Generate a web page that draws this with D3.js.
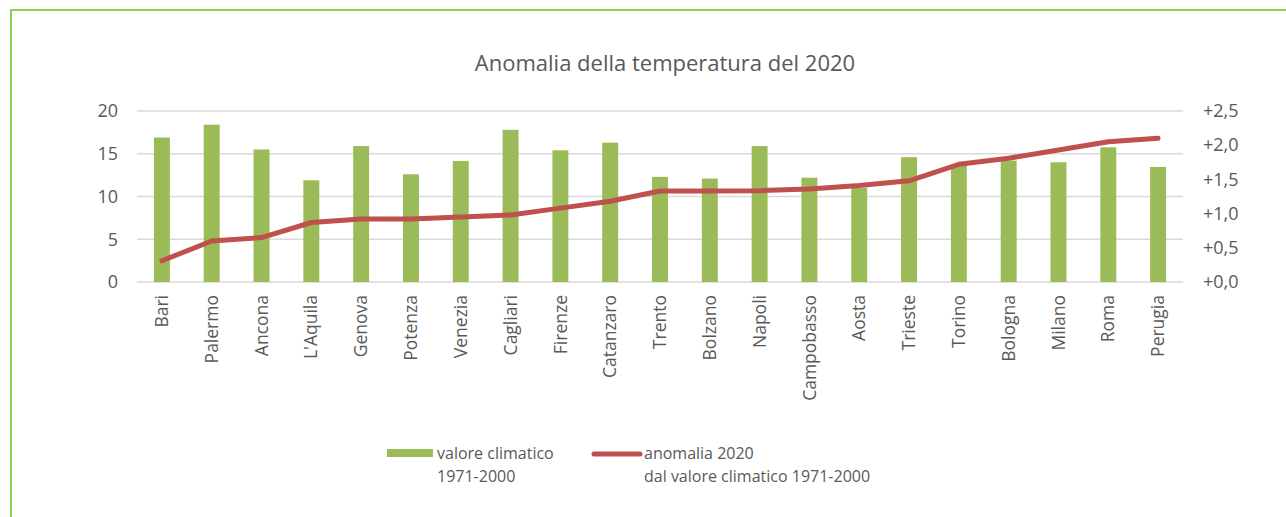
<!DOCTYPE html>
<html>
<head>
<meta charset="utf-8">
<script src="https://cdn.jsdelivr.net/npm/d3@7"></script>
<style>
  body { margin: 0; background: #fff; }
  svg { display: block; }
  text { font-family: "Open Sans", sans-serif; fill: #595959; }
</style>
</head>
<body>
<svg id="chart" width="1286" height="517"></svg>
<script>
// città ordinate per anomalia crescente
const cities = ["Bari","Palermo","Ancona","L'Aquila","Genova","Potenza","Venezia","Cagliari","Firenze","Catanzaro","Trento","Bolzano","Napoli","Campobasso","Aosta","Trieste","Torino","Bologna","Milano","Roma","Perugia"];
// valore climatico 1971-2000 (°C)
const climate = [16.9,18.4,15.5,11.9,15.9,12.6,14.15,17.8,15.4,16.3,12.3,12.1,15.9,12.2,11.0,14.6,13.7,14.2,14.0,15.75,13.45];
// anomalia 2020 (°C)
const anomaly = [0.31,0.60,0.65,0.87,0.92,0.92,0.95,0.98,1.08,1.18,1.33,1.33,1.335,1.36,1.41,1.48,1.72,1.81,1.93,2.05,2.10];
const leftTicks = [0,5,10,15,20];
const rightTicks = [0,0.5,1,1.5,2,2.5];

const svg = d3.select("#chart");
const margin = {left:137, right:103, top:111, bottom:235};
const W = 1286, H = 517;

// cornice verde
svg.append("rect")
  .attr("x",11).attr("y",10)
  .attr("width",1400).attr("height",600)
  .attr("fill","none")
  .attr("stroke","#92d050")
  .attr("stroke-width",2);

svg.append("text")
  .attr("x",665).attr("y",71)
  .attr("text-anchor","middle")
  .style("font-size","22px")
  .text("Anomalia della temperatura del 2020");

const x = d3.scaleBand()
  .domain(cities)
  .range([margin.left, W-margin.right])
  .paddingInner(0.68)
  .paddingOuter(0.34);

const yL = d3.scaleLinear().domain([0,20]).range([H-margin.bottom, margin.top]);
const yR = d3.scaleLinear().domain([0,2.5]).range([H-margin.bottom, margin.top]);

// griglia
svg.append("g")
  .selectAll("line")
  .data(leftTicks)
  .enter()
  .append("line")
  .attr("x1",margin.left).attr("x2",W-margin.right)
  .attr("y1",d=>yL(d)).attr("y2",d=>yL(d))
  .attr("stroke","#d9d9d9")
  .attr("stroke-width",1.5);

// barre
svg.append("g")
  .selectAll("rect")
  .data(climate)
  .enter()
  .append("rect")
  .attr("x",(d,i)=>x(cities[i]))
  .attr("width",x.bandwidth())
  .attr("y",d=>yL(d))
  .attr("height",d=>yL(0)-yL(d))
  .attr("fill","#9bbb59");

// linea anomalia
const line = d3.line()
  .x((d,i)=>x(cities[i])+x.bandwidth()/2)
  .y(d=>yR(d));

svg.append("path")
  .datum(anomaly)
  .attr("d",line)
  .attr("fill","none")
  .attr("stroke","#c0504d")
  .attr("stroke-width",5)
  .attr("stroke-linecap","round")
  .attr("stroke-linejoin","round");

// assi
const axisL = svg.append("g")
  .attr("transform",`translate(${margin.left-19},0)`)
  .call(d3.axisLeft(yL).tickValues(leftTicks).tickSize(0).tickPadding(0));
const axisR = svg.append("g")
  .attr("transform",`translate(${W-margin.right+20},0)`)
  .call(d3.axisRight(yR).tickValues(rightTicks).tickSize(0).tickPadding(0)
    .tickFormat(d=>"+"+d3.format(".1f")(d).replace(".",",")));
[axisL,axisR].forEach(a=>{
  a.select(".domain").remove();
  a.selectAll("text").style("font-size","18px").attr("fill","#595959")
    .style("font-family","'Open Sans', sans-serif");
});

const axisX = svg.append("g")
  .attr("transform",`translate(0,${yL(0)})`)
  .call(d3.axisBottom(x).tickSize(0).tickPadding(0));
axisX.select(".domain").remove();
axisX.selectAll("text")
  .attr("transform","rotate(-90)")
  .attr("x",-13).attr("y",0).attr("dy","0.35em")
  .attr("text-anchor","end")
  .attr("fill","#595959")
  .style("font-size","17.5px")
  .style("font-family","'Open Sans', sans-serif");

// legenda
const lg = svg.append("g");
lg.append("rect")
  .attr("x",387).attr("y",449).attr("width",46).attr("height",8)
  .attr("fill","#9bbb59");
lg.append("text").attr("x",437).attr("y",459).style("font-size","16px").text("valore climatico");
lg.append("text").attr("x",437).attr("y",482).style("font-size","16px").text("1971-2000");
lg.append("line")
  .attr("x1",594).attr("x2",640).attr("y1",454).attr("y2",454)
  .attr("stroke","#c0504d").attr("stroke-width",5).attr("stroke-linecap","round");
lg.append("text").attr("x",644).attr("y",459).style("font-size","16px").text("anomalia 2020");
lg.append("text").attr("x",644).attr("y",482).style("font-size","16px").text("dal valore climatico 1971-2000");
</script>
</body>
</html>
